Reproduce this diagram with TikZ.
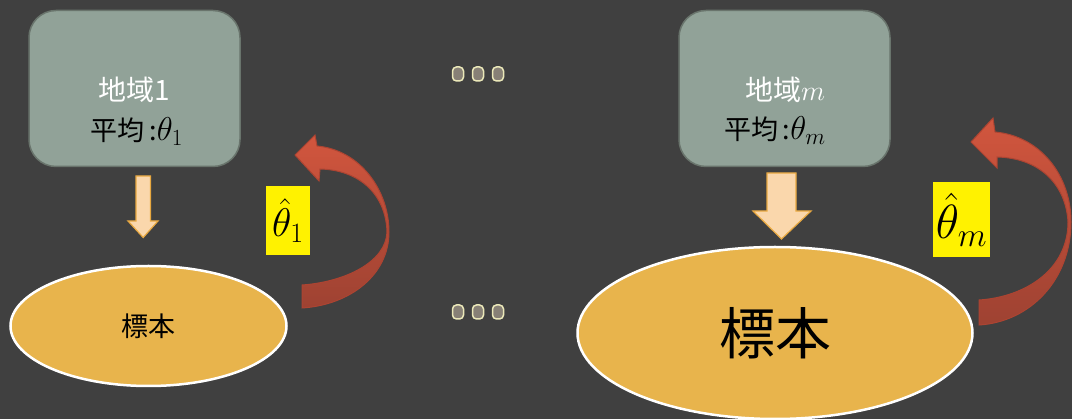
\RequirePackage{fix-cm}
\documentclass[tikz,border=0pt]{standalone}
\usepackage{fontspec}
\newfontfamily\cjk{Noto Sans CJK JP}
\usetikzlibrary{shapes.geometric}
\definecolor{bg}{RGB}{64,64,64}
\definecolor{regfill}{RGB}{145,162,152}
\definecolor{regdraw}{RGB}{105,116,108}
\definecolor{sampfill}{RGB}{232,180,76}
\definecolor{darrfill}{RGB}{250,215,172}
\definecolor{darrdraw}{RGB}{232,168,64}
\definecolor{dotfill}{RGB}{135,128,118}
\definecolor{dotdraw}{RGB}{235,232,185}
\definecolor{redtop}{RGB}{210,86,62}
\definecolor{redbot}{RGB}{158,66,50}
\definecolor{reddraw}{RGB}{172,68,50}
\newcommand{\bigth}[1]{{\fontsize{33}{36}\selectfont$\theta_{#1}$}}
\tikzset{
  region/.style={draw=regdraw, line width=1.5, fill=regfill, rounded corners=27, minimum width=211, minimum height=156, inner sep=0},
  regname/.style={text=white, font=\fontsize{28}{30}\selectfont\cjk},
  regmean/.style={text=black, font=\fontsize{27}{30}\selectfont\cjk},
  sample/.style={ellipse, draw=white, line width=2.5, fill=sampfill, inner sep=0},
  estlabel/.style={fill=yellow, inner sep=0},
  dotbox/.style={draw=dotdraw, line width=1.5, fill=dotfill, rounded corners=4, minimum width=11, minimum height=14, inner sep=0},
  downarrow/.style={fill=darrfill, draw=darrdraw, line width=1.2, line join=miter},
  redarrow/.style={top color=redtop, bottom color=redbot, draw=reddraw, line width=1},
}
\begin{document}
\begin{tikzpicture}[x=1pt,y=-1pt]
\useasboundingbox (0,0) rectangle (1072,419);
\fill[bg] (0,0) rectangle (1072,419);

% region boxes
\node[region] (r1) at (134.5,88.5) {};
\node[regname] (r1t) at (134,90) {地域1};
\node[regmean] (r1m) at (137,132) {平均\,:\bigth{1}};

\node[region] (rm) at (784.5,88.5) {};
\node[regname] (rmt) at (785,90) {地域$m$};
\node[regmean] (rmm) at (775,131) {平均\,:\bigth{m}};

% dots
\node[dotbox] (d1) at (458,74) {};
\node[dotbox] (d2) at (478,74) {};
\node[dotbox] (d3) at (498,74) {};
\node[dotbox] (d4) at (458,312) {};
\node[dotbox] (d5) at (478,312) {};
\node[dotbox] (d6) at (498,312) {};

% down arrows
\draw[downarrow] (136,176) -- (150.5,176) -- (150.5,221) -- (158,221) -- (143.2,237.5) -- (128,221) -- (136,221) -- cycle;
\draw[downarrow] (767,173) -- (796,173) -- (796,211) -- (811,211) -- (781.5,239) -- (753,211) -- (767,211) -- cycle;

% samples
\node[sample, minimum width=276, minimum height=120] (s1) at (148.5,326) {};
\node[font=\fontsize{27}{30}\selectfont\cjk] (s1t) at (s1) {標本};
\node[sample, minimum width=395, minimum height=172] (sm) at (775,333) {};
\node[font=\fontsize{56}{60}\selectfont\cjk] (smt) at (sm) {標本};

% curved arrows
\shade[redarrow] (317,146) .. controls (360,150) and (389,190) .. (389,232)
  .. controls (389,275) and (350,305) .. (302,308) -- (302,285)
  .. controls (345,282) and (386,262) .. (387,232)
  .. controls (386,195) and (360,170) .. (320,169)
  -- (319,181) -- (295,155) -- (315,135) -- cycle;
\shade[redarrow] (995,132) .. controls (1040,136) and (1071,175) .. (1071,222)
  .. controls (1071,280) and (1030,322) .. (979,325) -- (979,300)
  .. controls (1025,297) and (1068,270) .. (1068,222)
  .. controls (1066,185) and (1040,158) .. (997,157)
  -- (997,168) -- (971,142) -- (993,118) -- cycle;

% estimate labels
\node[estlabel, minimum width=44, minimum height=69, font=\fontsize{40}{44}\selectfont] (e1) at (288,220.5) {$\hat{\theta}_1$};
\node[estlabel, minimum width=57, minimum height=75, font=\fontsize{48}{52}\selectfont] (em) at (961.5,219.5) {$\hat{\theta}_m$};
\end{tikzpicture}
\end{document}
